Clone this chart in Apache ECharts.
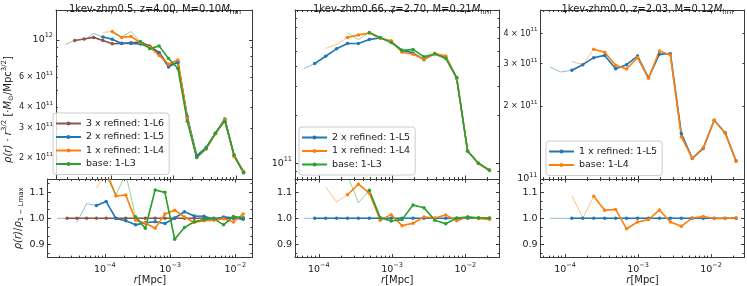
<!DOCTYPE html>
<html><head><meta charset="utf-8">
<script src="https://cdn.jsdelivr.net/npm/echarts@6/dist/echarts.min.js"></script>
<style>html,body{margin:0;padding:0;background:#fff}#c{width:747px;height:286px}</style>
</head><body><div id="c"></div>
<script>
// ================= DATA =================
// Panel 1: 1kev-zhm0.5, z=4.00
const p1R = [1.862e-5, 2.630e-5, 3.715e-5, 5.248e-5, 7.413e-5, 1.047e-4, 1.479e-4, 2.089e-4, 2.951e-4, 4.169e-4,
             5.888e-4, 8.318e-4, 1.175e-3, 1.660e-3, 2.344e-3, 3.311e-3, 4.677e-3, 6.607e-3, 9.333e-3, 1.318e-2];
const p1L6 = [9.39e11, 9.91e11, 1.0095e12, 1.033e12, 9.91e11, 9.47e11, 9.52e11, 9.60e11, 9.69e11, 9.20e11,
              8.40e11, 7.05e11, 7.35e11, 3.42e11, 2.04e11, 2.28e11, 2.80e11, 3.38e11, 2.06e11, 1.64e11];
const p1L5 = [null, null, 9.93e11, 1.09e12, 1.04e12, 1.008e12, 9.51e11, 9.51e11, 9.45e11, 9.04e11,
              8.29e11, 6.91e11, 7.36e11, 3.51e11, 2.06e11, 2.30e11, 2.79e11, 3.40e11, 2.064e11, 1.633e11];
const p1L4 = [null, null, null, null, 1.105e12, 1.12e12, 1.033e12, 1.045e12, 9.62e11, 9.03e11,
              8.08e11, 7.16e11, 7.58e11, 3.44e11, 2.01e11, 2.26e11, 2.78e11, 3.37e11, 2.03e11, 1.666e11];
const p1L3 = [null, null, null, null, null, 1.10e12, 1.038e12, 1.12e12, 9.75e11, 8.85e11,
              9.20e11, 7.75e11, 6.76e11, 3.30e11, 2.01e11, 2.27e11, 2.80e11, 3.30e11, 2.07e11, 1.64e11];
const p1RatioL6 = [1, 1, 1, 1, 1, 1, 1, 1, 1, 1, 1, 1, 1, 1, 1, 1, 1, 1, 1, 1];
const p1RatioL5 = [null, null, 0.984, 1.056, 1.049, 1.064, 0.999, 0.991, 0.975, 0.983,
                   0.987, 0.980, 1.001, 1.025, 1.009, 1.008, 0.996, 1.005, 1.002, 0.996];
const p1RatioL4 = [null, null, null, null, 1.115, 1.180, 1.085, 1.089, 0.993, 0.981,
                   0.962, 1.016, 1.031, 1.005, 0.984, 0.991, 0.993, 0.998, 0.986, 1.016];
const p1RatioL3 = [null, null, null, null, null, 1.160, 1.090, 1.170, 1.006, 0.962,
                   1.108, 1.099, 0.920, 0.965, 0.987, 0.995, 0.999, 0.975, 1.007, 1.002];
const p1Start = [1, 4, 5, 8];           // first converged bin (L6, L5, L4, L3)

// Panel 2: 1kev-zhm0.66, z=2.70
const p2R = [6.237e-5, 8.790e-5, 1.239e-4, 1.746e-4, 2.460e-4, 3.467e-4, 4.887e-4, 6.887e-4, 9.705e-4,
             1.368e-3, 1.928e-3, 2.716e-3, 3.828e-3, 5.395e-3, 7.603e-3, 1.072e-2, 1.510e-2, 2.128e-2];
const p2L5 = [3.89e11, 4.18e11, 4.64e11, 5.16e11, 5.57e11, 5.57e11, 5.90e11, 6.04e11, 5.71e11,
              5.06e11, 4.87e11, 4.42e11, 4.82e11, 4.60e11, 3.41e11, 1.19e11, 1.00e11, 9.08e10];
const p2L4 = [null, null, 5.19e11, 5.49e11, 6.07e11, 6.30e11, 6.47e11, 6.00e11, 5.79e11,
              4.92e11, 4.78e11, 4.44e11, 4.82e11, 4.66e11, 3.38e11, 1.196e11, 0.999e11, 9.04e10];
const p2L3 = [null, null, null, null, 6.49e11, 5.90e11, 6.53e11, 6.05e11, 5.65e11,
              5.03e11, 5.12e11, 4.60e11, 4.79e11, 4.50e11, 3.41e11, 1.196e11, 1.002e11, 9.09e10];
const p2RatioL5 = [1, 1, 1, 1, 1, 1, 1, 1, 1, 1, 1, 1, 1, 1, 1, 1, 1, 1];
const p2RatioL4 = [null, null, 1.119, 1.063, 1.090, 1.130, 1.096, 0.993, 1.014,
                   0.972, 0.981, 1.005, 1.001, 1.013, 0.991, 1.005, 0.999, 0.996];
const p2RatioL3 = [null, null, null, null, 1.165, 1.059, 1.107, 1.002, 0.990,
                   0.995, 1.051, 1.040, 0.993, 0.979, 1.001, 1.005, 1.002, 1.001];
const p2Start = [1, 4, 6];              // (L5, L4, L3)

// Panel 3: 1kev-zhm0.0, z=2.03
const p3R = [6.223e-5, 8.790e-5, 1.242e-4, 1.754e-4, 2.477e-4, 3.499e-4, 4.943e-4, 6.982e-4, 9.863e-4,
             1.393e-3, 1.968e-3, 2.780e-3, 3.926e-3, 5.546e-3, 7.834e-3, 1.107e-2, 1.563e-2, 2.208e-2];
const p3L5 = [2.905e11, 2.77e11, 2.815e11, 2.97e11, 3.175e11, 3.245e11, 2.86e11, 2.97e11, 3.225e11,
              2.62e11, 3.28e11, 3.30e11, 1.543e11, 1.217e11, 1.338e11, 1.751e11, 1.553e11, 1.186e11];
const p3L4 = [null, null, 3.06e11, 2.97e11, 3.44e11, 3.345e11, 2.957e11, 2.85e11, 3.18e11,
              2.61e11, 3.385e11, 3.254e11, 1.497e11, 1.218e11, 1.347e11, 1.749e11, 1.551e11, 1.188e11];
const p3RatioL5 = [1, 1, 1, 1, 1, 1, 1, 1, 1, 1, 1, 1, 1, 1, 1, 1, 1, 1];
const p3RatioL4 = [null, null, 1.087, 1.001, 1.084, 1.031, 1.034, 0.960, 0.986,
                   0.995, 1.032, 0.986, 0.970, 1.001, 1.007, 0.999, 0.999, 1.002];
const p3Start = [2, 4];                 // (L5, L4)

// Axis ranges and tick values
const p1XRange = [1.318e-5, 1.832e-2], p2XRange = [4.73e-5, 2.92e-2], p3XRange = [4.62e-5, 2.88e-2];
const p1YRange = [1.5e11, 1.5e12], p2YRange = [8e10, 9e11], p3YRange = [1e11, 5e11];
const ratioRange = [0.85, 1.15];
const xTicks = [1e-4, 1e-3, 1e-2];
const p1YLabels = [2e11, 3e11, 4e11, 6e11, 1e12], p1YMajor = [1e12];
const p2YLabels = [1e11], p2YMajor = [1e11];
const p3YLabels = [1e11, 2e11, 3e11, 4e11], p3YMajor = [1e11];
const ratioTicks = [0.9, 1.0, 1.1];
const ratioMinorTicks = [0.8667, 0.9333, 0.9667, 1.0333, 1.0667, 1.1333];

// ================= STYLE / LAYOUT =================
const F = 'DejaVu Sans';
const TXT = '#1a1a1a', AX = '#3a3a3a';
const COL = { brown: '#8c564b', blue: '#1f77b4', orange: '#ff7f0e', green: '#2ca02c' };
const LAYOUT = [{ left: 47.5, width: 205 }, { left: 295, width: 204.5 }, { left: 540.5, width: 204 }];
const TOP = { top: 10, height: 169 }, BOT = { top: 179, height: 84 };

const base = { fontFamily: F, color: TXT, fontWeight: 'normal' };
const RICH = {
  b: { ...base, fontSize: 9.5 },
  s: { ...base, fontSize: 6.5, padding: [0, 0, 8, 0] },
  m: { ...base, fontSize: 8 },
  ms: { ...base, fontSize: 5.5, padding: [0, 0, 7, 0] },
  i: { ...base, fontSize: 10, fontStyle: 'italic' },
  n: { ...base, fontSize: 10 },
  sup: { ...base, fontSize: 7, padding: [0, 0, 8, 0] },
  sub: { ...base, fontSize: 7, padding: [6, 0, 0, 0] }
};

const panels = [
  { title: '{n|1kev-zhm0.5, z=4.00, M=0.10}{i|M}{sub|hm}', r: p1R, xr: p1XRange, yr: p1YRange,
    yLabels: p1YLabels, yMajor: p1YMajor,
    lines: [
      { name: '3 x refined: 1-L6', color: COL.brown, rho: p1L6, ratio: p1RatioL6, start: p1Start[0] },
      { name: '2 x refined: 1-L5', color: COL.blue, rho: p1L5, ratio: p1RatioL5, start: p1Start[1] },
      { name: '1 x refined: 1-L4', color: COL.orange, rho: p1L4, ratio: p1RatioL4, start: p1Start[2] },
      { name: 'base: 1-L3', color: COL.green, rho: p1L3, ratio: p1RatioL3, start: p1Start[3] }
    ], legendTop: 113, legendLeft: 53 },
  { title: '{n|1kev-zhm0.66, z=2.70, M=0.21}{i|M}{sub|hm}', r: p2R, xr: p2XRange, yr: p2YRange,
    yLabels: p2YLabels, yMajor: p2YMajor,
    lines: [
      { name: '2 x refined: 1-L5', color: COL.blue, rho: p2L5, ratio: p2RatioL5, start: p2Start[0] },
      { name: '1 x refined: 1-L4', color: COL.orange, rho: p2L4, ratio: p2RatioL4, start: p2Start[1] },
      { name: 'base: 1-L3', color: COL.green, rho: p2L3, ratio: p2RatioL3, start: p2Start[2] }
    ], legendTop: 127, legendLeft: 299 },
  { title: '{n|1kev-zhm0.0, z=2.03, M=0.12}{i|M}{sub|hm}', r: p3R, xr: p3XRange, yr: p3YRange,
    yLabels: p3YLabels, yMajor: p3YMajor,
    lines: [
      { name: '1 x refined: 1-L5', color: COL.blue, rho: p3L5, ratio: p3RatioL5, start: p3Start[0] },
      { name: 'base: 1-L4', color: COL.orange, rho: p3L4, ratio: p3RatioL4, start: p3Start[1] }
    ], legendTop: 141, legendLeft: 546 }
];

function powLabel(v) {
  const ex = Math.floor(Math.log10(v) + 1e-9);
  const m = Math.round(v / Math.pow(10, ex));
  const es = ex < 0 ? '−' + (-ex) : String(ex);
  if (m === 1) return '{b|10}{s|' + es + '}';
  return '{m|' + m + ' × 10}{ms|' + es + '}';
}

const grid = [], xAxis = [], yAxis = [], series = [], legend = [], title = [];
const tickLine = { color: AX, width: 1 };

function mkX(gi, p, pos, withLabels, name) {
  xAxis.push({
    type: 'log', logBase: 10, gridIndex: gi, position: pos, min: p.xr[0], max: p.xr[1],
    axisLine: { show: true, onZero: false, lineStyle: { color: AX, width: 1 } },
    axisTick: { show: true, inside: true, length: 3.5, customValues: xTicks, lineStyle: tickLine },
    minorTick: { show: true, splitNumber: 9, length: 2, lineStyle: tickLine },
    axisLabel: withLabels ? { show: true, customValues: xTicks, margin: 4, formatter: v => powLabel(v), rich: RICH } : { show: false },
    splitLine: { show: false },
    name: name || '', nameLocation: 'middle', nameGap: 17,
    nameTextStyle: { rich: RICH }
  });
  return xAxis.length - 1;
}

panels.forEach((p, k) => {
  const L = LAYOUT[k];
  const gT = grid.length; grid.push({ left: L.left, top: TOP.top, width: L.width, height: TOP.height });
  const gB = grid.length; grid.push({ left: L.left, top: BOT.top, width: L.width, height: BOT.height });

  const xT = mkX(gT, p, 'bottom', false);
  mkX(gT, p, 'top', false);
  const xB = mkX(gB, p, 'bottom', true, '{i|r}{n|[Mpc]}');
  mkX(gB, p, 'top', false);

  // top panel y (log)
  const yT = yAxis.length;
  yAxis.push({
    type: 'log', logBase: 10, gridIndex: gT, position: 'left', min: p.yr[0], max: p.yr[1],
    axisLine: { show: true, onZero: false, lineStyle: { color: AX, width: 1 } },
    axisTick: { show: true, inside: true, length: 3.5, customValues: p.yMajor, lineStyle: tickLine },
    minorTick: { show: true, splitNumber: 9, length: 2, lineStyle: tickLine },
    axisLabel: { show: true, customValues: p.yLabels, margin: 3, formatter: v => powLabel(v), rich: RICH },
    splitLine: { show: false },
    name: k === 0 ? '{i|ρ(r)}{n| · }{i|r}{sup|3/2}{n| [·}{i|M}{sub|⊙}{n|/Mpc}{sup|3/2}{n|]}' : '',
    nameLocation: 'middle', nameGap: 30, nameRotate: 90,
    nameTextStyle: { rich: RICH, padding: [0, 30, 0, 0] }
  });
  yAxis.push({
    type: 'log', logBase: 10, gridIndex: gT, position: 'right', min: p.yr[0], max: p.yr[1],
    axisLine: { show: true, onZero: false, lineStyle: { color: AX, width: 1 } },
    axisTick: { show: true, inside: true, length: 3.5, customValues: p.yMajor, lineStyle: tickLine },
    minorTick: { show: true, splitNumber: 9, length: 2, lineStyle: tickLine },
    axisLabel: { show: false }, splitLine: { show: false }
  });
  // bottom panel y (ratio)
  const yB = yAxis.length;
  yAxis.push({
    type: 'value', gridIndex: gB, position: 'left', min: ratioRange[0], max: ratioRange[1],
    axisLine: { show: true, onZero: false, lineStyle: { color: AX, width: 1 } },
    axisTick: { show: true, inside: true, length: 3.5, customValues: ratioTicks, lineStyle: tickLine },
    axisLabel: { show: true, customValues: ratioTicks, margin: 3, formatter: v => v.toFixed(1),
                 fontFamily: F, fontSize: 9.5, color: TXT },
    splitLine: { show: false },
    name: k === 0 ? '{i|ρ(r)}{n|/}{i|ρ}{sub|1 − Lmax}' : '',
    nameLocation: 'middle', nameGap: 23, nameRotate: 90,
    nameTextStyle: { rich: RICH }
  });
  yAxis.push({
    type: 'value', gridIndex: gB, position: 'right', min: ratioRange[0], max: ratioRange[1],
    axisLine: { show: true, onZero: false, lineStyle: { color: AX, width: 1 } },
    axisTick: { show: true, inside: true, length: 3.5, customValues: ratioTicks, lineStyle: tickLine },
    axisLabel: { show: false }, splitLine: { show: false }
  });
  ['left', 'right'].forEach(pos => yAxis.push({
    type: 'value', gridIndex: gB, position: pos, min: ratioRange[0], max: ratioRange[1],
    axisLine: { show: false },
    axisTick: { show: true, inside: true, length: 2, customValues: ratioMinorTicks, lineStyle: tickLine },
    axisLabel: { show: false }, splitLine: { show: false }
  }));

  // series
  p.lines.forEach(ln => {
    [[xT, yT, ln.rho], [xB, yB, ln.ratio]].forEach(([xi, yi, vals]) => {
      const all = [], conv = [];
      p.r.forEach((r, i) => {
        if (vals[i] == null) return;
        all.push([r, vals[i]]);
        if (i >= ln.start) conv.push([r, vals[i]]);
      });
      series.push({
        type: 'line', name: '_thin_' + ln.name, xAxisIndex: xi, yAxisIndex: yi, data: all,
        symbol: 'none', showSymbol: false, silent: true, emphasis: { disabled: true },
        lineStyle: { color: ln.color, width: 0.9, opacity: 0.55 }, itemStyle: { color: ln.color }
      });
      series.push({
        type: 'line', name: ln.name, xAxisIndex: xi, yAxisIndex: yi, data: conv,
        symbol: 'circle', symbolSize: 3.5, showSymbol: true, emphasis: { disabled: true },
        lineStyle: { color: ln.color, width: 1.6 }, itemStyle: { color: ln.color }
      });
    });
  });

  legend.push({
    data: p.lines.map(l => l.name), orient: 'vertical', left: p.legendLeft, top: p.legendTop,
    itemWidth: 25, itemHeight: 5, itemGap: 2.5, padding: [5, 5, 5, 2],
    backgroundColor: 'rgba(255,255,255,0.8)', borderColor: '#cccccc', borderWidth: 1, borderRadius: 3,
    textStyle: { fontFamily: F, fontSize: 9.5, color: TXT, lineHeight: 11 },
    selectedMode: false
  });
  title.push({
    text: p.title, left: L.left + L.width / 2, textAlign: 'center', top: -2,
    textStyle: { fontWeight: 'normal', fontFamily: F, fontSize: 10, color: TXT, rich: RICH }
  });
});

const chart = echarts.init(document.getElementById('c'), null, { renderer: 'canvas' });
chart.setOption({
  animation: false, backgroundColor: '#ffffff',
  title, grid, xAxis, yAxis, series, legend,
  textStyle: { fontFamily: F }
});
</script>
</body></html>
